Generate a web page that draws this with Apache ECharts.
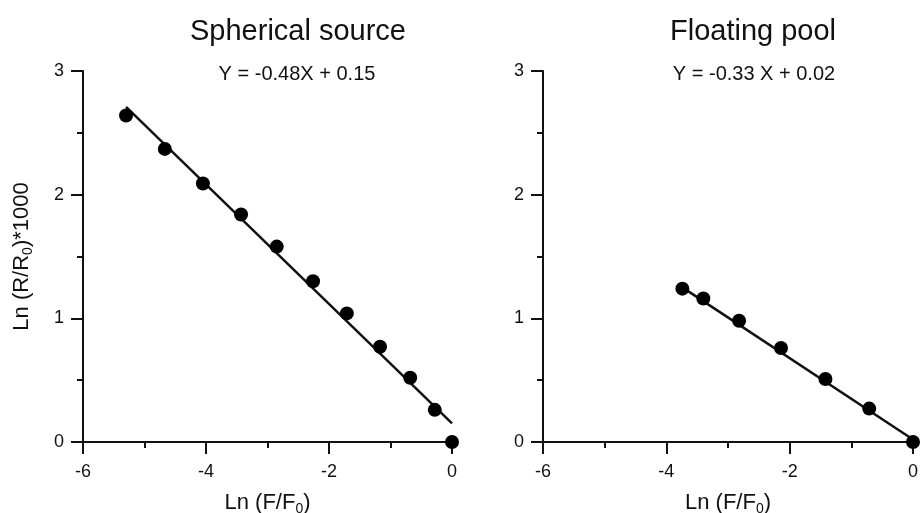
<!DOCTYPE html>
<html>
<head>
<meta charset="utf-8">
<script src="https://cdn.jsdelivr.net/npm/echarts@6/dist/echarts.min.js"></script>
<style>
  html, body { margin: 0; padding: 0; background: #fff; }
  #main { width: 921px; height: 513px; }
</style>
</head>
<body>
<div id="main"></div>
<script>
// spherical source points (Ln F/F0, Ln R/R0 *1000)
var sphX = [-5.30, -4.67, -4.05, -3.43, -2.85, -2.26, -1.71, -1.17, -0.68, -0.28, 0];
var sphY = [2.64, 2.37, 2.09, 1.84, 1.58, 1.30, 1.04, 0.77, 0.52, 0.26, 0];
var sphFit = [[-5.30, 2.71], [0, 0.15]];

// floating pool points
var poolX = [-3.74, -3.40, -2.82, -2.14, -1.42, -0.71, 0];
var poolY = [1.24, 1.16, 0.98, 0.76, 0.51, 0.27, 0];
var poolFit = [[-3.74, 1.25], [0, 0.02]];

var titles = ['Spherical source', 'Floating pool'];
var equations = ['Y = -0.48X + 0.15', 'Y = -0.33 X + 0.02'];
var yTicks = [0, 1, 2, 3];
var xTicks = [-6, -4, -2, 0];

var font = 'Liberation Sans, Arial, sans-serif';
var ink = '#111';
var myChart = echarts.init(document.getElementById('main'));

function zip(xs, ys) {
    var out = [];
    for (var i = 0; i < xs.length; i++) out.push([xs[i], ys[i]]);
    return out;
}

var nameRich = {
    a: {fontSize: 22, fontFamily: font, color: ink},
    s: {fontSize: 14, fontFamily: font, color: ink, verticalAlign: 'bottom', padding: [12, 0, 0, 0]}
};

function xAxisOf(i) {
    return {
        gridIndex: i, type: 'value',
        min: xTicks[0], max: xTicks[xTicks.length - 1], interval: 2,
        name: '{a|Ln (F/F}{s|0}{a|)}', nameLocation: 'middle', nameGap: 48,
        nameTextStyle: {rich: nameRich},
        axisLine: {onZero: false, lineStyle: {color: ink, width: 2}},
        axisTick: {length: 12, lineStyle: {color: ink, width: 2}},
        minorTick: {show: true, splitNumber: 2, length: 6, lineStyle: {color: ink, width: 2}},
        axisLabel: {color: ink, fontSize: 18, fontFamily: font, margin: 21},
        splitLine: {show: false}
    };
}

function yAxisOf(i) {
    var ax = {
        gridIndex: i, type: 'value',
        min: yTicks[0], max: yTicks[yTicks.length - 1], interval: 1,
        axisLine: {show: true, onZero: false, lineStyle: {color: ink, width: 2}},
        axisTick: {show: true, length: 12, lineStyle: {color: ink, width: 2}},
        minorTick: {show: true, splitNumber: 2, length: 6, lineStyle: {color: ink, width: 2}},
        axisLabel: {color: ink, fontSize: 18, fontFamily: font, margin: 19},
        splitLine: {show: false}
    };
    if (i === 0) {
        ax.name = '{a|Ln (R/R}{s|0}{a|)*1000}';
        ax.nameLocation = 'middle';
        ax.nameGap = 48;
        ax.nameTextStyle = {rich: nameRich};
    }
    return ax;
}

let option = {
    backgroundColor: '#fff',
    animation: false,
    title: [
        {text: titles[0], left: 293, top: 12, textAlign: 'center',
            textStyle: {fontSize: 29, fontWeight: 'normal', fontFamily: font, color: ink}},
        {text: equations[0], left: 292, top: 59, textAlign: 'center',
            textStyle: {fontSize: 20, fontWeight: 'normal', fontFamily: font, color: ink}},
        {text: titles[1], left: 748, top: 12, textAlign: 'center',
            textStyle: {fontSize: 29, fontWeight: 'normal', fontFamily: font, color: ink}},
        {text: equations[1], left: 749, top: 59, textAlign: 'center',
            textStyle: {fontSize: 20, fontWeight: 'normal', fontFamily: font, color: ink}}
    ],
    grid: [
        {left: 83, top: 71, width: 369, height: 371, outerBoundsMode: 'none'},
        {left: 543, top: 71, width: 370, height: 371, outerBoundsMode: 'none'}
    ],
    xAxis: [xAxisOf(0), xAxisOf(1)],
    yAxis: [yAxisOf(0), yAxisOf(1)],
    series: [
        {type: 'line', xAxisIndex: 0, yAxisIndex: 0, data: sphFit, symbol: 'none',
            lineStyle: {color: ink, width: 2.5}, z: 2},
        {type: 'scatter', xAxisIndex: 0, yAxisIndex: 0, data: zip(sphX, sphY),
            symbolSize: 14, itemStyle: {color: '#000', opacity: 1}, z: 3},
        {type: 'line', xAxisIndex: 1, yAxisIndex: 1, data: poolFit, symbol: 'none',
            lineStyle: {color: ink, width: 2.5}, z: 2},
        {type: 'scatter', xAxisIndex: 1, yAxisIndex: 1, data: zip(poolX, poolY),
            symbolSize: 14, itemStyle: {color: '#000', opacity: 1}, z: 3}
    ]
};
myChart.setOption(option);
</script>
</body>
</html>
